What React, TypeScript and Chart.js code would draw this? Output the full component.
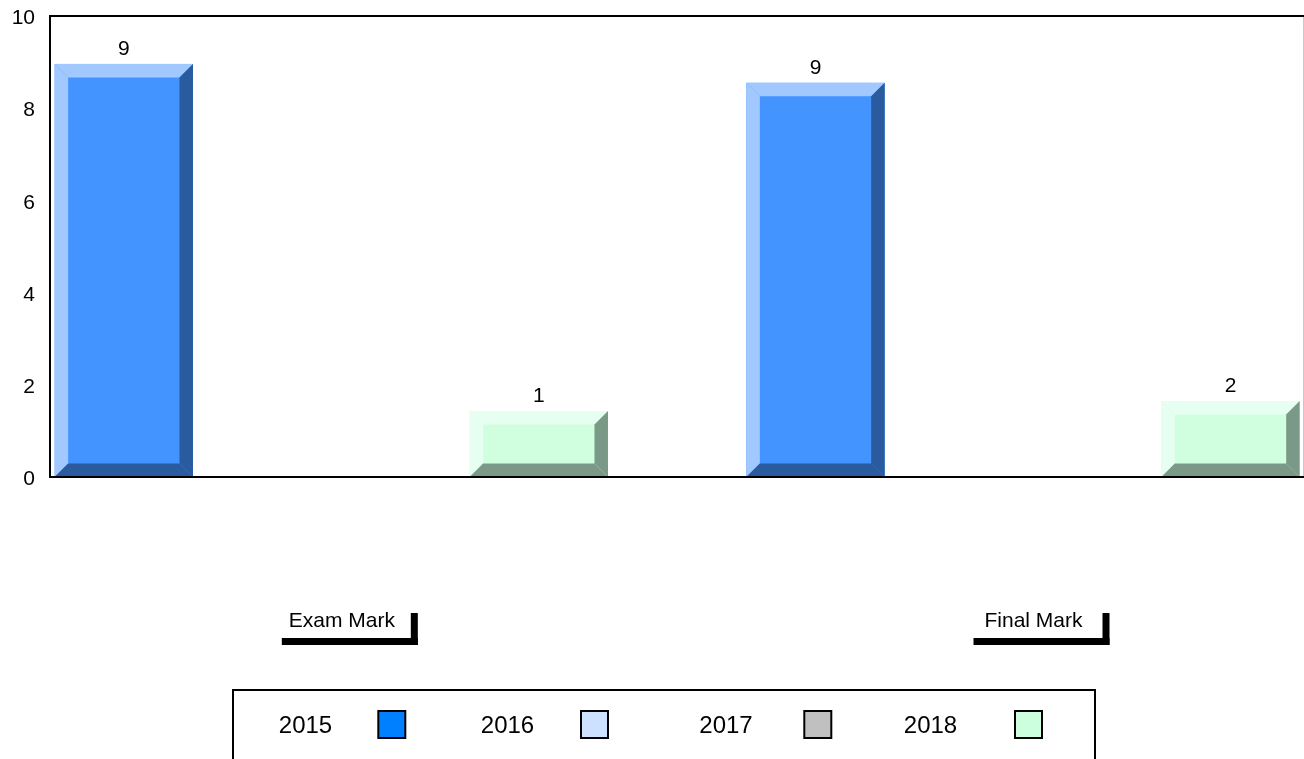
import React, { useEffect, useRef } from 'react';
import { Chart, registerables } from 'chart.js';

Chart.register(...registerables);

// ---------- data ----------
const CATEGORIES = ['Exam Mark', 'Final Mark'];
const SERIES = ['2015', '2016', '2017', '2018'];
const VALUES_2015: (number | null)[] = [8.96, 8.55];
const VALUES_2016: (number | null)[] = [null, null];
const VALUES_2017: (number | null)[] = [null, null];
const VALUES_2018: (number | null)[] = [1.43, 1.65];
const Y_TICKS = [0, 2, 4, 6, 8, 10];

// ---------- styles ----------
const FONT = '"Liberation Sans", Arial, Helvetica, sans-serif';
const LEGEND_COLORS = ['#0080ff', '#cce0ff', '#c0c0c0', '#ccffdd'];
const BAR_FACE = ['#4394ff', '#cce0ff', '#c0c0c0', '#d0ffe0'];
const BAR_LIGHT = ['#a1c9ff', '#e6f0ff', '#e0e0e0', '#e6fff0'];
const BAR_DARK = ['#2a5b9e', '#7a8aa0', '#707070', '#7a9a87'];

const ALL_VALUES = [VALUES_2015, VALUES_2016, VALUES_2017, VALUES_2018];

function poly(ctx: CanvasRenderingContext2D, pts: number[][], color: string) {
  ctx.beginPath();
  ctx.moveTo(pts[0][0], pts[0][1]);
  for (let i = 1; i < pts.length; i++) ctx.lineTo(pts[i][0], pts[i][1]);
  ctx.closePath();
  ctx.fillStyle = color;
  ctx.fill();
}

const bevelPlugin = {
  id: 'bevelBars',
  afterDatasetsDraw(chart: any) {
    const ctx: CanvasRenderingContext2D = chart.ctx;
    ctx.save();
    chart.data.datasets.forEach((ds: any, di: number) => {
      const meta = chart.getDatasetMeta(di);
      meta.data.forEach((el: any, i: number) => {
        const v = ALL_VALUES[di][i];
        if (v == null) return;
        const { x, y, base, width } = el.getProps(['x', 'y', 'base', 'width'], true);
        const L = x - width / 2;
        const R = x + width / 2;
        const T = Math.min(y, base);
        const B = Math.max(y, base);
        const b = Math.min(13.5, (B - T) / 2, width / 2);
        ctx.fillStyle = BAR_FACE[di];
        ctx.fillRect(L, T, R - L, B - T);
        poly(ctx, [[L, T], [R, T], [R - b, T + b], [L + b, T + b]], BAR_LIGHT[di]);
        poly(ctx, [[L, T], [L + b, T + b], [L + b, B - b], [L, B]], BAR_LIGHT[di]);
        poly(ctx, [[R, T], [R, B], [R - b, B - b], [R - b, T + b]], BAR_DARK[di]);
        poly(ctx, [[L, B], [R, B], [R - b, B - b], [L + b, B - b]], BAR_DARK[di]);
        ctx.fillStyle = '#000';
        ctx.font = `21px ${FONT}`;
        ctx.textAlign = 'center';
        ctx.textBaseline = 'middle';
        ctx.fillText(String(Math.round(v)), x, T - 15);
      });
    });
    ctx.restore();
  },
  afterDraw(chart: any) {
    const ctx: CanvasRenderingContext2D = chart.ctx;
    const a = chart.chartArea;
    const xs = chart.scales.x;
    ctx.save();
    ctx.fillStyle = '#c8c8c8';
    ctx.fillRect(a.right, a.top, 1, a.bottom - a.top);
    ctx.fillStyle = '#000';
    ctx.fillRect(a.left - 1, a.top - 1, chart.width - a.left + 1, 2);
    ctx.fillRect(a.left - 1, a.top - 1, 2, a.bottom - a.top + 2);
    ctx.fillRect(a.left - 1, a.bottom - 1, chart.width - a.left + 1, 2);

    ctx.font = `21px ${FONT}`;
    ctx.textAlign = 'center';
    ctx.textBaseline = 'middle';
    CATEGORIES.forEach((c, i) => {
      const cx = xs.getPixelForValue(i) + 18.5;
      ctx.fillStyle = '#000';
      ctx.fillText(c, cx - 8, 621);
      ctx.fillRect(cx - 68, 638, 136, 7);
      ctx.fillRect(cx + 61, 613, 7, 32);
    });

    ctx.lineWidth = 2;
    ctx.strokeStyle = '#000';
    ctx.strokeRect(233, 690, 862, 120);
    const textX = [305.5, 507.5, 726, 930.5];
    const swX = [378.3, 581, 804.3, 1015];
    ctx.font = `24px ${FONT}`;
    SERIES.forEach((s, i) => {
      ctx.fillStyle = '#000';
      ctx.fillText(s, textX[i], 726);
      ctx.fillStyle = LEGEND_COLORS[i];
      ctx.fillRect(swX[i], 711, 27, 27);
      ctx.strokeRect(swX[i], 711, 27, 27);
    });
    ctx.restore();
  },
};

export default function App() {
  const ref = useRef<HTMLCanvasElement | null>(null);

  useEffect(() => {
    const canvas = ref.current;
    if (!canvas) return;
    const datasets = SERIES.map((s, di) => ({
      label: s,
      data: CATEGORIES.map((_, i) => ({ x: i, y: ALL_VALUES[di][i] })),
      backgroundColor: 'rgba(0,0,0,0)',
      borderWidth: 0,
      categoryPercentage: 0.8,
      barPercentage: 1,
    }));
    const chart = new Chart(canvas, {
      type: 'bar',
      data: { datasets } as any,
      plugins: [bevelPlugin],
      options: {
        animation: false,
        responsive: false,
        layout: { padding: { left: 0, top: 16, right: 1, bottom: 282 } },
        plugins: { legend: { display: false }, tooltip: { enabled: false } },
        scales: {
          x: {
            type: 'linear',
            display: false,
            min: -0.4067,
            max: 1.4048,
            offset: false,
            afterBuildTicks: (axis: any) => {
              axis.ticks = CATEGORIES.map((_, i) => ({ value: i }));
            },
          },
          y: {
            min: 0,
            max: 10,
            afterBuildTicks: (axis: any) => {
              axis.ticks = Y_TICKS.map((v) => ({ value: v }));
            },
            afterFit: (axis: any) => {
              axis.width = 50;
              axis.paddingTop = 0;
              axis.paddingBottom = 0;
            },
            ticks: {
              color: '#000',
              padding: 15,
              labelOffset: 2.5,
              font: { family: FONT, size: 21 },
            },
            grid: { display: false, drawTicks: false },
            border: { display: false },
          },
        },
      } as any,
    });
    return () => chart.destroy();
  }, []);

  return (
    <div style={{ position: 'absolute', left: 0, top: 0, width: 1304, height: 759, background: '#fff', overflow: 'hidden' }}>
      <canvas ref={ref} width={1304} height={759} style={{ display: 'block' }} />
    </div>
  );
}
